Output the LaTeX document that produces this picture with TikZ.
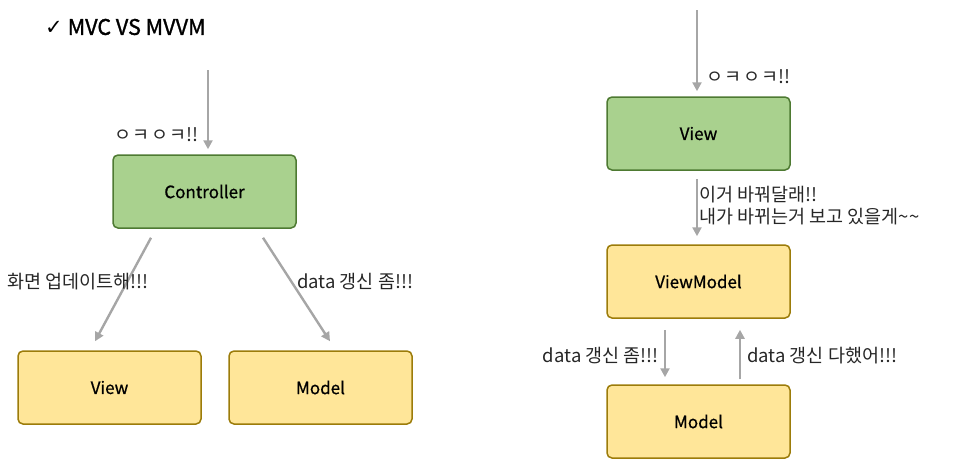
\documentclass[tikz,border=0pt]{standalone}
\usepackage{fontspec}
\setmainfont{Noto Sans CJK KR}
\newfontfamily\medfont[FakeBold=0.7]{Noto Sans CJK KR}
\newfontfamily\ttlfont[FakeBold=1.3]{Noto Sans CJK KR}
\newfontfamily\symfont{DejaVu Sans}
\usetikzlibrary{arrows.meta}
\definecolor{gfill}{HTML}{A9D18E}
\definecolor{gline}{HTML}{4E7A32}
\definecolor{yfill}{HTML}{FFE699}
\definecolor{yline}{HTML}{9C7C0A}
\definecolor{arrgray}{HTML}{A6A6A6}
\definecolor{txt}{HTML}{262626}
\tikzset{
  box/.style={rounded corners=5pt, line width=1.5pt, minimum width=183pt, minimum height=73pt, inner sep=0pt, font=\medfont\fontsize{17}{19}\selectfont, text=black},
  gbox/.style={box, fill=gfill, draw=gline},
  ybox/.style={box, fill=yfill, draw=yline},
  arr/.style={draw=arrgray, line width=2.4pt, -{Triangle[length=9pt,width=9pt]}},
  lbl/.style={font=\fontsize{18.5}{22}\selectfont, text=txt, inner sep=0pt},
}
\begin{document}
\begin{tikzpicture}[x=1pt,y=-1pt]
\useasboundingbox (0,0) rectangle (954,467);
% title
\node[anchor=west, inner sep=0pt, text=black] (title) at (45,27) {{\symfont\fontsize{21}{22}\selectfont ✓}\hspace{5pt}{\ttlfont\fontsize{21.5}{22}\selectfont MVC VS MVVM}};
% MVC
\node[gbox] (ctrl) at (204.5,191.5) {Controller};
\node[ybox] (lview) at (109.5,387.5) {View};
\node[ybox] (lmodel) at (320.5,387.5) {Model};
\coordinate (lin) at (208,70);
\draw[arr, shorten >=5pt] (lin) -- (lin |- ctrl.north);
\node[lbl, anchor=east] (l1) at (199,135) {ㅇ\kern1.5ptㅋ\kern1.5ptㅇ\kern1.5ptㅋ!!};
\draw[arr] ([xshift=-53.5pt,yshift=-9pt]ctrl.south) -- ([xshift=-14.5pt,yshift=9pt]lview.north);
\draw[arr] ([xshift=58.5pt,yshift=-9pt]ctrl.south) -- ([xshift=9.5pt,yshift=9pt]lmodel.north);
\node[lbl, anchor=west] (l2) at (7,282) {화면 업데이트해!!!};
\node[lbl, anchor=west] (l3) at (297,282) {data 갱신 좀!!!};
% MVVM
\node[gbox] (rview) at (698.5,133.5) {View};
\node[ybox] (vm) at (698.5,281.5) {ViewModel};
\node[ybox] (rmodel) at (698.5,421.5) {Model};
\coordinate (rin) at (697,10);
\draw[arr, shorten >=5pt] (rin) -- (rin |- rview.north);
\node[lbl, anchor=west] (r1) at (706,77) {ㅇ\kern1.5ptㅋ\kern1.5ptㅇ\kern1.5ptㅋ!!};
\draw[arr] ([xshift=-1.5pt,yshift=-8pt]rview.south) -- ([xshift=-1.5pt,yshift=8pt]vm.north);
\node[lbl, anchor=west, align=left] (r2) at (699,206) {이거 바꿔달래!!\\내가 바뀌는거 보고 있을게\textasciitilde\textasciitilde};
\draw[arr] ([xshift=-33.5pt,yshift=-11pt]vm.south) -- ([xshift=-33.5pt,yshift=7pt]rmodel.north);
\draw[arr] ([xshift=41.5pt,yshift=5pt]rmodel.north) -- ([xshift=41.5pt,yshift=-11pt]vm.south);
\node[lbl, anchor=east] (r3) at (659,356) {data 갱신 좀!!!};
\node[lbl, anchor=west] (r4) at (747,356) {data 갱신 다했어!!!};
\end{tikzpicture}
\end{document}
